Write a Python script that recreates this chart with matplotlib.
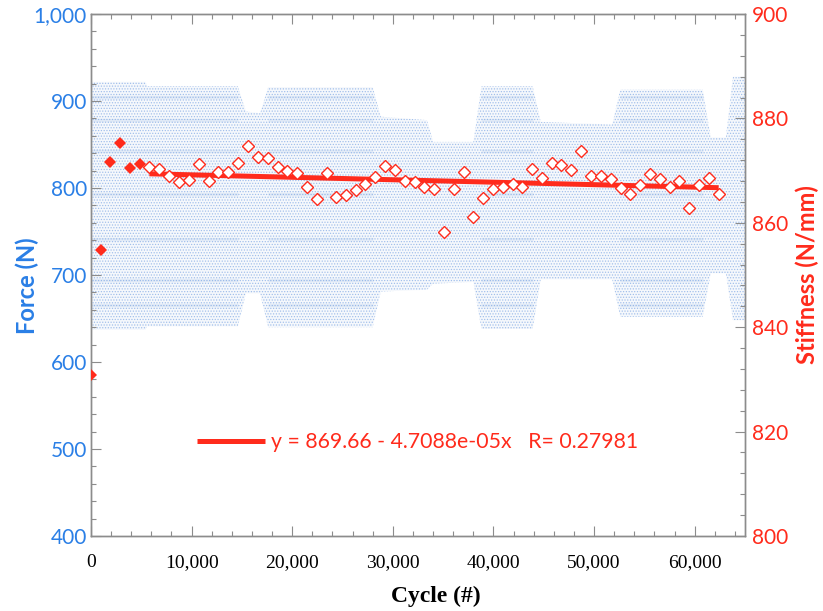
import matplotlib
matplotlib.use("Agg")
import matplotlib.pyplot as plt
from matplotlib.ticker import MultipleLocator, FuncFormatter

# ---------------- data ----------------
# Stiffness samples (right axis)
cycles = [0, 960, 1890, 2880, 3870, 4870, 5800, 6790, 7780, 8740,
          9740, 10700, 11690, 12650, 13640, 14640, 15560, 16560, 17550, 18540,
          19500, 20460, 21420, 22420, 23410, 24370, 25330, 26290, 27280, 28240,
          29210, 30200, 31190, 32180, 33110, 34110, 35070, 36060, 37050, 38010,
          38970, 39970, 40930, 41920, 42880, 43840, 44830, 45790, 46750, 47750,
          48710, 49670, 50690, 51690, 52650, 53610, 54600, 55560, 56520, 57510,
          58470, 59430, 60430, 61420, 62380]
stiffness = [830.8, 854.7, 871.7, 875.2, 870.5, 871.3, 870.6, 870.3, 869.0, 867.8,
             868.2, 871.2, 868.0, 869.8, 869.7, 871.4, 874.7, 872.7, 872.4, 870.6,
             870.0, 869.5, 866.9, 864.6, 869.5, 864.9, 865.3, 866.3, 867.5, 868.8,
             870.8, 870.2, 868.1, 867.8, 866.9, 866.4, 858.2, 866.4, 869.8, 861.2,
             864.8, 866.4, 866.8, 867.4, 866.9, 870.3, 868.6, 871.5, 871.0, 870.1,
             873.8, 869.0, 869.0, 868.3, 866.7, 865.6, 867.2, 869.4, 868.4, 866.9,
             868.1, 862.9, 867.3, 868.6, 865.6]
n_filled = 6  # first samples drawn as filled diamonds (excluded from fit)

fit_intercept = 869.66
fit_slope = -4.7088e-05
fit_r = 0.27981

# Force cloud envelope (left axis)
cloud_cycle = [0, 5400, 5600, 14600, 15400, 16800, 17600, 28000, 28800, 33400,
               34000, 38000, 38800, 43900, 44700, 51800, 52600, 60800, 61600, 63100,
               63800, 65000]
cloud_top = [922, 922, 917, 917, 888, 886, 916, 916, 882, 878,
             853, 853, 917, 917, 876, 873, 913, 913, 858, 858,
             928, 928]
cloud_bottom = [637, 637, 641, 641, 679, 679, 640, 640, 681, 683,
                690, 692, 638, 638, 695, 695, 652, 652, 702, 702,
                648, 648]

# denser load-level streaks inside the full-amplitude blocks
block_start = [0, 17600, 38800, 52600]
block_end = [14600, 28000, 43900, 60800]
streak_levels = [905, 878, 842, 793, 741, 694, 665]

x_ticks = [0, 10000, 20000, 30000, 40000, 50000, 60000]
force_ticks = [400, 500, 600, 700, 800, 900, 1000]
stiff_ticks = [800, 820, 840, 860, 880, 900]

# ---------------- style ----------------
BLUE = "#2a7fe6"
RED = "#ff2b1c"
SPINE = "#8c8c8c"
CLOUD = "#5b8fd6"

plt.rcParams["hatch.linewidth"] = 0.6

fig = plt.figure(figsize=(8.23, 6.11), dpi=100)
ax = fig.add_axes([91 / 823, 1 - 536 / 611, 654 / 823, 522 / 611])
ax2 = ax.twinx()

# force cloud
ax.fill_between(cloud_cycle, cloud_bottom, cloud_top, facecolor=(0.36, 0.56, 0.84, 0.06),
                edgecolor=(0.30, 0.52, 0.85, 0.45), hatch="......", linewidth=0, zorder=1)
for s, e in zip(block_start, block_end):
    for lv in streak_levels:
        ax.plot([s, e], [lv, lv], color=CLOUD, alpha=0.12, lw=2.5, zorder=1.5,
                solid_capstyle="butt")

ax.set_xlim(0, 65000)
ax.set_ylim(400, 1000)
ax2.set_ylim(800, 900)

# stiffness
ax2.plot(cycles[:n_filled], stiffness[:n_filled], linestyle="none", marker="D",
         markersize=6.4, color=RED, markeredgewidth=0, zorder=4)
ax2.plot(cycles[n_filled:], stiffness[n_filled:], linestyle="none", marker="D",
         markersize=6.2, markerfacecolor="white", markeredgecolor=RED,
         markeredgewidth=1.0, zorder=4)
fx = [cycles[n_filled], cycles[-1]]
fy = [fit_intercept + fit_slope * v for v in fx]
fit_label = f"y = {fit_intercept} - {abs(fit_slope):.4e}x   R= {fit_r}"
(fit_line,) = ax2.plot(fx, fy, color=RED, lw=3.6, solid_capstyle="butt", zorder=3,
                       label=fit_label)

leg = ax2.legend(handles=[fit_line], loc="center left", bbox_to_anchor=(0.162, 0.18),
                 frameon=False, handlelength=3.2, handletextpad=0.3,
                 borderpad=0, borderaxespad=0, prop={"family": "Lato", "size": 15.3})
for t in leg.get_texts():
    t.set_color(RED)

# axes styling
for a in (ax, ax2):
    for sp in a.spines.values():
        sp.set_color(SPINE)
        sp.set_linewidth(1.0)

ax.set_xticks(x_ticks)
ax.xaxis.set_minor_locator(MultipleLocator(2000))
ax.set_yticks(force_ticks)
ax.yaxis.set_minor_locator(MultipleLocator(20))
ax2.set_yticks(stiff_ticks)
ax2.yaxis.set_minor_locator(MultipleLocator(4))

ax.xaxis.set_major_formatter(FuncFormatter(lambda v, p: f"{int(v):,}"))
ax.yaxis.set_major_formatter(FuncFormatter(lambda v, p: f"{int(v):,}"))

ax.tick_params(axis="x", which="both", direction="in", top=True, color=SPINE, width=0.8,
               pad=13, labelsize=14)
ax.tick_params(axis="x", which="major", length=7.5)
ax.tick_params(axis="x", which="minor", length=3.6)
ax.tick_params(axis="y", which="both", direction="in", color=SPINE, width=0.8,
               pad=3, labelsize=15, labelcolor=BLUE)
ax.tick_params(axis="y", which="major", length=7.5)
ax.tick_params(axis="y", which="minor", length=3.6)
ax2.tick_params(axis="y", which="both", direction="in", color=SPINE, width=0.8,
                pad=5, labelsize=15, labelcolor=RED)
ax2.tick_params(axis="y", which="major", length=7.5)
ax2.tick_params(axis="y", which="minor", length=3.6)

for lab in ax.get_xticklabels():
    lab.set_fontfamily("Liberation Serif")
for lab in ax.get_yticklabels() + ax2.get_yticklabels():
    lab.set_fontfamily("Lato")

ax.set_xlabel("Cycle (#)", fontsize=17, fontweight="bold", family="Liberation Serif")
ax.xaxis.set_label_coords(0.528, -0.095)
ax.set_ylabel("Force (N)", fontsize=17, fontweight="bold", family="Lato", color=BLUE)
ax.yaxis.set_label_coords(-0.08, 0.48)
ax2.set_ylabel("Stiffness (N/mm)", fontsize=17, fontweight="bold", family="Lato",
               color=RED, rotation=90)
ax2.yaxis.set_label_coords(1.078, 0.5)

fig.savefig("out.png", dpi=100)
